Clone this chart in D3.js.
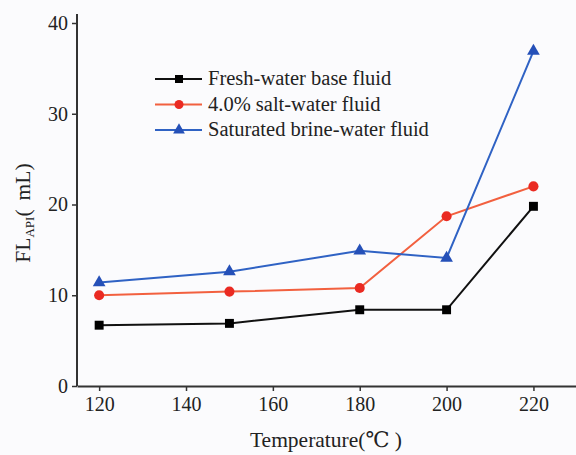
<!DOCTYPE html>
<html lang="en">
<head>
    <meta charset="UTF-8">
    <title>FL API vs temperature</title>
    <script src="https://d3js.org/d3.v7.min.js"></script>
    <style>
        body { margin: 0; background: #fbfbfd; }
        svg text { font-family: "Times New Roman", "Liberation Serif", "DejaVu Serif", serif !important; }
    </style>
</head>
<body>
    <svg width="576" height="455"></svg>
    <script>
        // data
        const temps = [120, 150, 180, 200, 220];
        const freshWater = [6.7, 6.9, 8.4, 8.4, 19.8];
        const saltWater = [10.0, 10.4, 10.8, 18.7, 22.0];
        const brineWater = [11.4, 12.6, 14.9, 14.1, 36.9];
        const xTicks = [120, 140, 160, 180, 200, 220];
        const yTicks = [0, 10, 20, 30, 40];
        const seriesNames = ['Fresh-water base fluid', '4.0% salt-water fluid', 'Saturated brine-water fluid'];

        const series = [
            { name: seriesNames[0], values: freshWater, line: '#111111', fill: '#000000', shape: d3.symbolSquare },
            { name: seriesNames[1], values: saltWater, line: '#f2603f', fill: '#ea2a22', shape: d3.symbolCircle },
            { name: seriesNames[2], values: brineWater, line: '#2f62c4', fill: '#2550b8', shape: d3.symbolTriangle }
        ];

        const svg = d3.select('svg');

        const xScale = d3.scaleLinear()
                        .domain([114.9, 229.8])
                        .range([77, 576]);
        const yScale = d3.scaleLinear()
                        .domain([0, 40])
                        .range([386, 23]);

        // axes (left + bottom only)
        const xAxis = d3.axisBottom(xScale).tickValues(xTicks).tickSize(5).tickSizeOuter(0).tickPadding(6);
        const yAxis = d3.axisLeft(yScale).tickValues(yTicks).tickSize(5).tickSizeOuter(0).tickPadding(4);

        const gx = svg.append('g').attr('transform', 'translate(0, 386)').call(xAxis);
        const gy = svg.append('g').attr('transform', 'translate(77, 0)').call(yAxis);

        // stretch y axis line a bit above 40
        gy.select('.domain').attr('d', `M0,${yScale(0)}V14`);

        [gx, gy].forEach(g => {
            g.attr('font-family', null).attr('font-size', null);
            g.select('.domain').attr('stroke', '#333').attr('stroke-width', 2);
            g.selectAll('.tick line').attr('stroke', '#333').attr('stroke-width', 1.5);
            g.selectAll('.tick text')
                .attr('fill', '#222')
                .style('font-size', '20px');
        });

        // lines
        const line = d3.line()
                        .x((d, i) => xScale(temps[i]))
                        .y(d => yScale(d));

        series.forEach(s => {
            svg.append('path')
                .attr('d', line(s.values))
                .attr('fill', 'none')
                .attr('stroke', s.line)
                .attr('stroke-width', 2);

            svg.selectAll(null)
                .data(s.values)
                .enter()
                .append('path')
                .attr('d', d3.symbol().type(s.shape).size(s.shape === d3.symbolTriangle ? 70 : 80))
                .attr('transform', (d, i) => `translate(${xScale(temps[i])}, ${yScale(d)})`)
                .attr('fill', s.fill);
        });

        // legend
        const legend = svg.append('g').attr('transform', 'translate(155, 79)');
        series.forEach((s, i) => {
            const row = legend.append('g').attr('transform', `translate(0, ${i * 25.5})`);
            row.append('line')
                .attr('x1', 0).attr('x2', 47)
                .attr('y1', 0).attr('y2', 0)
                .attr('stroke', s.line).attr('stroke-width', 2);
            row.append('path')
                .attr('d', d3.symbol().type(s.shape).size(s.shape === d3.symbolTriangle ? 60 : 64))
                .attr('transform', 'translate(24, 0)')
                .attr('fill', s.fill);
            row.append('text')
                .attr('x', 53).attr('y', 6)
                .attr('fill', '#222')
                .style('font-size', '20.5px')
                .text(s.name);
        });

        // axis titles
        svg.append('text')
            .attr('x', 326).attr('y', 447)
            .attr('text-anchor', 'middle')
            .attr('fill', '#222')
            .style('font-size', '21.5px')
            .text('Temperature(℃ )');

        const yTitle = svg.append('text')
            .attr('transform', 'translate(30, 213) rotate(-90)')
            .attr('text-anchor', 'middle')
            .attr('fill', '#222')
            .style('font-size', '21.5px');
        yTitle.append('tspan').text('FL');
        yTitle.append('tspan').attr('dy', 4).style('font-size', '13px').text('API');
        yTitle.append('tspan').attr('dy', -4).text('(');
        yTitle.append('tspan').attr('dx', 9).text('mL)');
    </script>
</body>
</html>
